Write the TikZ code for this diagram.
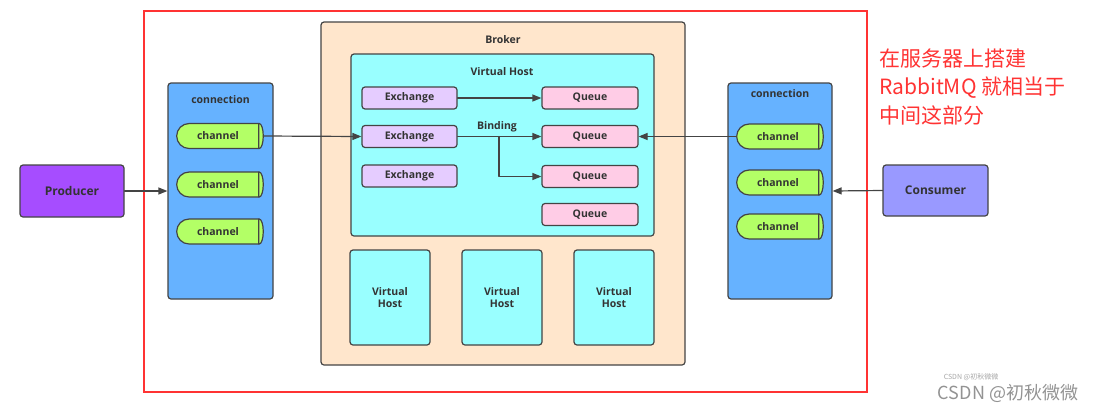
\documentclass[tikz,border=0pt]{standalone}
\usepackage{fontspec}
\setmainfont{Open Sans}
\newfontfamily\cjk{Noto Sans CJK SC}
\usetikzlibrary{arrows, arrows.meta, shapes}
\usetikzlibrary{positioning}

\definecolor{linegray}{HTML}{444444}
\definecolor{txtgray}{HTML}{333333}
\definecolor{redframe}{HTML}{FF3333}
\definecolor{producerfill}{HTML}{A64DFF}
\definecolor{consumerfill}{HTML}{9999FF}
\definecolor{connfill}{HTML}{66B2FF}
\definecolor{channelfill}{HTML}{B3FF66}
\definecolor{brokerfill}{HTML}{FFE6CC}
\definecolor{vhostfill}{HTML}{99FFFF}
\definecolor{exchfill}{HTML}{E5CCFF}
\definecolor{queuefill}{HTML}{FFCCE6}

\tikzset{
  box/.style={draw=linegray, line width=1.2pt, rounded corners=3pt, text=txtgray,
    font=\bfseries\fontsize{10.5}{12.5}\selectfont, inner sep=0pt, align=center},
  title/.style={text=txtgray, font=\bfseries\fontsize{10.5}{12}\selectfont, inner sep=0pt},
  channel/.style={draw=linegray, line width=1.2pt, fill=channelfill, rounded rectangle,
    rounded rectangle right arc=none, minimum width=82, minimum height=25, inner sep=0pt,
    text=txtgray, font=\bfseries\fontsize{10.5}{12}\selectfont,
    append after command={\pgfextra{\draw[draw=linegray, line width=1.2pt, fill=channelfill]
      (\tikzlastnode.east) ellipse (4pt and 12.5pt);}}},
  exch/.style={box, fill=exchfill, minimum width=95, minimum height=22},
  queue/.style={box, fill=queuefill, minimum width=96, minimum height=22},
  link/.style={draw=linegray, line width=1.2pt, ->}
}

\begin{document}
\begin{tikzpicture}[line cap=round,line join=round,>={Triangle[length=9pt,width=7pt]},x=1pt,y=-1pt]
\useasboundingbox (0,0) rectangle (1100,413);
\draw[redframe, line width=2.6pt, line cap=butt, line join=miter] (144,11) rectangle (867,392);

% broker with its virtual hosts
\node[box, fill=brokerfill, minimum width=364, minimum height=343] (broker) at (503,193.5) {};
\node[title] (brokerlabel) at (503,40) {Broker};
\node[box, fill=vhostfill, minimum width=303, minimum height=182] (vhost) at (502.5,145) {};
\node[title] (vhostlabel) at (502,72) {Virtual Host};

\node[exch] (ex1) at (409.5,98) {Exchange};
\node[exch] (ex2) at (409.5,136.5) {Exchange};
\node[exch] (ex3) at (409.5,176) {Exchange};

\node[queue] (q1) at (590,98) {Queue};
\node[queue] (q2) at (590,136.5) {Queue};
\node[queue] (q3) at (590,176.5) {Queue};
\node[queue] (q4) at (590,214.5) {Queue};

\node[title] (bindlabel) at (497,127) {Binding};
\coordinate (bind) at (499,136.5);

\node[box, fill=vhostfill, minimum width=80, minimum height=95] (vh1) at (390,297.5) {Virtual\\Host};
\node[box, fill=vhostfill, minimum width=80, minimum height=95] (vh2) at (502,297.5) {Virtual\\Host};
\node[box, fill=vhostfill, minimum width=80, minimum height=95] (vh3) at (614,297.5) {Virtual\\Host};

% producer side
\node[box, fill=producerfill, minimum width=104, minimum height=52, font=\bfseries\fontsize{12}{14}\selectfont] (producer) at (72,191) {Producer};
\node[box, fill=connfill, minimum width=105, minimum height=216] (connL) at (220.5,191) {};
\node[title] (connLlabel) at (220.5,100) {connection};
\node[channel] (chL1) at (218,136) {channel};
\node[channel] (chL2) at (218,184.5) {channel};
\node[channel] (chL3) at (218,231.5) {channel};

% consumer side
\node[box, fill=consumerfill, minimum width=105, minimum height=51, font=\bfseries\fontsize{12}{14}\selectfont] (consumer) at (935.5,190.5) {Consumer};
\node[box, fill=connfill, minimum width=104, minimum height=216] (connR) at (780,191) {};
\node[title] (connRlabel) at (780,94) {connection};
\node[channel] (chR1) at (778,136.5) {channel};
\node[channel] (chR2) at (778,182.5) {channel};
\node[channel] (chR3) at (778,226.5) {channel};

% links
\draw[link] (producer.east) -- (connL.west);
\draw[link] (consumer.west) -- (connR.east);
\draw[link] ([xshift=4pt]chL1.east) -- (ex2.west);
\draw[link] (chR1.west) -- (q2.east);
\draw[link] (ex1.east) -- (q1.west);
\draw[link] (ex2.east) -- (q2.west);
\draw[link] (bind) |- (q3.west);

\node[anchor=west, align=left, inner sep=0pt, text=redframe, font=\cjk\fontsize{21}{28.5}\selectfont] (note) at (879,87) {在服务器上搭建\\RabbitMQ 就相当于\\中间这部分};

\node[text=gray!70, inner sep=0pt, font=\cjk\fontsize{7}{8}\selectfont] (mark1) at (971,377) {CSDN @初秋微微};
\node[text=gray!85, inner sep=0pt, font=\cjk\fontsize{18}{20}\selectfont] (mark2) at (1008,393) {CSDN @初秋微微};
\end{tikzpicture}
\end{document}
